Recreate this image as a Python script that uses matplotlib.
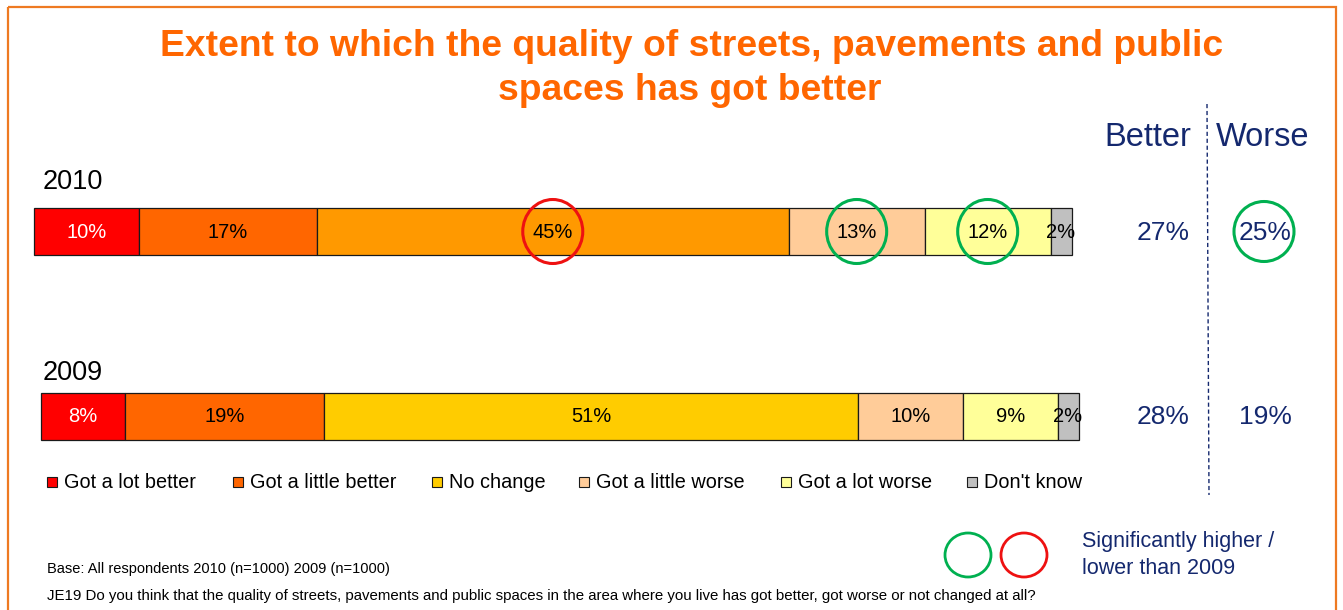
import numpy as np
import matplotlib.pyplot as plt
from matplotlib.patches import Rectangle, Ellipse

# data
years = ['2010', '2009']
categories = ['Got a lot better', 'Got a little better', 'No change',
              'Got a little worse', 'Got a lot worse', "Don't know"]
values_2010 = [10, 17, 45, 13, 12, 2]
values_2009 = [8, 19, 51, 10, 9, 2]
better = [27, 28]
worse = [25, 19]
# significance vs 2009: 'up' = higher (green), 'down' = lower (red)
sig_2010 = ['', '', 'down', 'up', 'up', '']
sig_2009 = ['', '', '', '', '', '']
sig_worse = ['up', '']

colors_2010 = ['#FF0000', '#FF6600', '#FF9900', '#FFCC99', '#FFFF99', '#C0C0C0']
colors_2009 = ['#FF0000', '#FF6600', '#FFCC00', '#FFCC99', '#FFFF99', '#C0C0C0']
legend_colors = colors_2009

NAVY = '#14286E'
ORANGE = '#FF6600'
GREEN = '#00B050'
RED = '#EE1111'
FONT = ['Liberation Sans', 'DejaVu Sans']

W, H = 1343, 610
fig = plt.figure(figsize=(W / 100, H / 100), dpi=100)

# overlay axes in pixel units for layout/decoration
pax = fig.add_axes([0, 0, 1, 1])
pax.set_xlim(0, W)
pax.set_ylim(H, 0)
pax.axis('off')

# bar axes: x in percent, y in pixels
scale = 10.48  # px per percent
x0 = 34
bax = fig.add_axes([0, 0, 1, 1])
bax.set_xlim(-x0 / scale, (W - x0) / scale)
bax.set_ylim(H, 0)
bax.axis('off')
bax.patch.set_alpha(0)

# frame
pax.add_patch(Rectangle((8, 7), 1328, 640, fill=False, edgecolor='#EE7A22', lw=1.6))

# title
pax.text(692, 47, 'Extent to which the quality of streets, pavements and public',
         ha='center', va='center', fontsize=26.8, fontweight='bold', color=ORANGE, family=FONT)
pax.text(690, 91, 'spaces has got better', ha='center', va='center',
         fontsize=26.8, fontweight='bold', color=ORANGE, family=FONT)

rows = [
    (values_2010, colors_2010, sig_2010, 231.5, 0.0, 189),
    (values_2009, colors_2009, sig_2009, 416.0, 0.67, 380),
]
for i, (vals, cols, sig, yc, off, ybase) in enumerate(rows):
    lefts = off + np.concatenate([[0], np.cumsum(vals)[:-1]])
    bax.barh(yc, vals, left=lefts, height=47, color=cols, edgecolor='#1a1a1a', lw=0.9)
    for j, (v, l) in enumerate(zip(vals, lefts)):
        xc = l + v / 2
        tc = 'white' if j == 0 else 'black'
        bax.text(xc, yc + 1, f'{v}%', ha='center', va='center', fontsize=14.5,
                 color=tc, family=FONT)
        if sig[j]:
            ec = GREEN if sig[j] == 'up' else RED
            bax.add_patch(Ellipse((xc, yc), 60 / scale, 64, fill=False, edgecolor=ec, lw=2.2))
    pax.text(43, ybase, years[i], ha='left', va='baseline', fontsize=19.5, color='black', family=FONT)
    pax.text(1163, yc + 1, f'{better[i]}%', ha='center', va='center', fontsize=19, color=NAVY, family=FONT)
    pax.text(1265, yc + 1, f'{worse[i]}%', ha='center', va='center', fontsize=19, color=NAVY, family=FONT)
    if sig_worse[i]:
        ec = GREEN if sig_worse[i] == 'up' else RED
        pax.add_patch(Ellipse((1264, yc), 60, 60, fill=False, edgecolor=ec, lw=2.2))

# column headers and divider
pax.text(1148, 138, 'Better', ha='center', va='center', fontsize=23.5, color=NAVY, family=FONT)
pax.text(1263, 138, 'Worse', ha='center', va='center', fontsize=23.5, color=NAVY, family=FONT)
pax.plot([1207, 1209], [104, 495], color=NAVY, lw=1, ls=(0, (3, 2)))

# legend
leg_x = [47, 233, 432, 579, 781, 967]
for lx, lab, c in zip(leg_x, categories, legend_colors):
    pax.add_patch(Rectangle((lx, 477), 10, 10, facecolor=c, edgecolor='#1a1a1a', lw=0.8))
    pax.text(lx + 17, 483, lab, ha='left', va='center', fontsize=14.3, color='black', family=FONT)

# significance key
pax.add_patch(Ellipse((968, 555), 46, 44, fill=False, edgecolor=GREEN, lw=2.0))
pax.add_patch(Ellipse((1024, 555), 46, 44, fill=False, edgecolor=RED, lw=2.0))
pax.text(1082, 541, 'Significantly higher /', ha='left', va='center', fontsize=15.5, color=NAVY, family=FONT)
pax.text(1082, 568, 'lower than 2009', ha='left', va='center', fontsize=15.5, color=NAVY, family=FONT)

# footnotes
pax.text(47, 569, 'Base: All respondents 2010 (n=1000) 2009 (n=1000)', ha='left', va='center',
         fontsize=10.5, color='black', family=FONT)
pax.text(47, 596, 'JE19 Do you think that the quality of streets, pavements and public spaces in the area '
         'where you live has got better, got worse or not changed at all?', ha='left', va='center',
         fontsize=10.8, color='black', family=FONT)

fig.savefig('out.png', dpi=100, facecolor='white')
